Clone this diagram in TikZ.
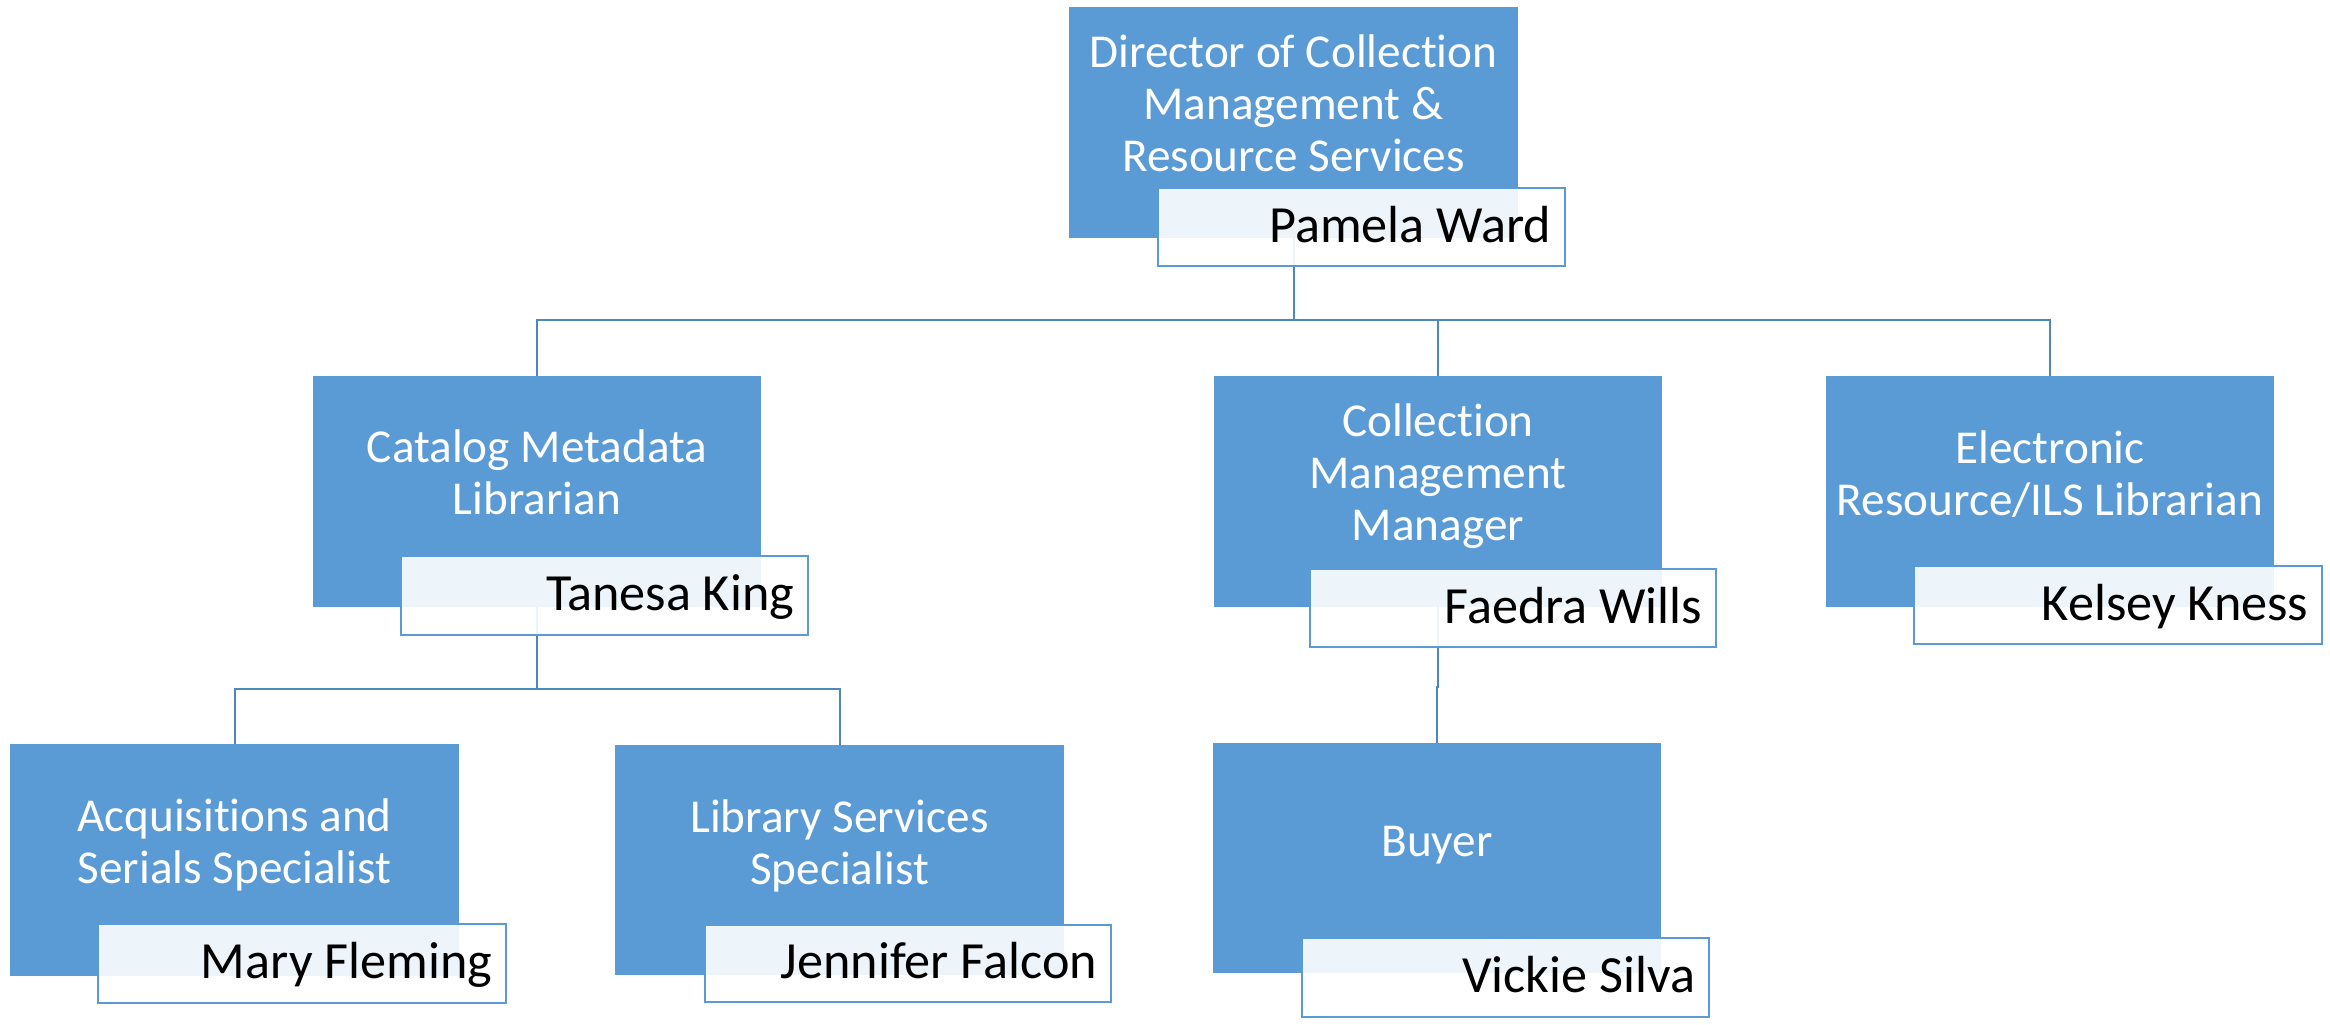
\documentclass[tikz,border=0pt]{standalone}
\usepackage{fontspec}
\setmainfont{Carlito}[Ligatures=NoCommon]
\definecolor{boxblue}{HTML}{5B9BD5}
\definecolor{linkblue}{HTML}{4D87C0}
\tikzset{
  rolebox/.style={rectangle, fill=boxblue, draw=none, inner sep=0pt, outer sep=0pt},
  namebox/.style={rectangle, fill=white, fill opacity=0.9, draw=boxblue, line width=1pt, inner sep=0pt, outer sep=0pt},
  roletext/.style={text=white, align=center, inner sep=0pt, font=\fontsize{23.6}{26}\selectfont},
  nametext/.style={text=black, inner sep=0pt, anchor=base east, font=\fontsize{26.1}{30}\selectfont},
  link/.style={draw=linkblue, line width=1pt}
}
\begin{document}
\begin{tikzpicture}[x=0.5pt,y=-0.5pt]
\useasboundingbox (0,0) rectangle (2330,1024);

% role boxes
\node[rolebox, minimum width=224.5pt, minimum height=115.5pt] (dir)  at (1293.5,122.5) {};
\node[rolebox, minimum width=224pt,   minimum height=115.5pt] (cat)  at (537,491.5) {};
\node[rolebox, minimum width=224pt,   minimum height=115.5pt] (cmm)  at (1438,491.5) {};
\node[rolebox, minimum width=224pt,   minimum height=115.5pt] (elec) at (2050,491.5) {};
\node[rolebox, minimum width=224.5pt, minimum height=116pt]   (acq)  at (234.5,860) {};
\node[rolebox, minimum width=224.5pt, minimum height=115pt]   (lib)  at (839.5,860) {};
\node[rolebox, minimum width=224pt,   minimum height=115pt]   (buy)  at (1437,858) {};

% connectors
\coordinate (j1) at (1293.5,320);
\coordinate (j2) at (537,689);
\coordinate (j3) at (1438,687);
\draw[link] (dir.south) -- (j1);
\draw[link] (j1) -| (cat.north);
\draw[link] (j1) -| (cmm.north);
\draw[link] (j1) -| (elec.north);
\draw[link] (cat.south) -- (j2);
\draw[link] (j2) -| (acq.north);
\draw[link] (j2) -| (lib.north);
\draw[link] (cmm.south) -- (j3) -| (buy.north);

% role texts
\node[roletext] (dir-t)  at ([yshift=6.5pt]dir.center)  {\strut Director of Collection\\\strut Management \&\\\strut Resource Services};
\node[roletext] (cat-t)  at ([yshift=6.5pt]cat.center)  {\strut Catalog Metadata\\\strut Librarian};
\node[roletext] (cmm-t)  at ([yshift=6.5pt]cmm.center)  {\strut Collection\\\strut Management\\\strut Manager};
\node[roletext] (elec-t) at ([yshift=6pt]elec.center)   {\strut Electronic\\\strut Resource/ILS Librarian};
\node[roletext] (acq-t)  at ([yshift=6.5pt]acq.center)  {\strut Acquisitions and\\\strut Serials Specialist};
\node[roletext] (lib-t)  at ([yshift=6pt]lib.center)    {\strut Library Services\\\strut Specialist};
\node[roletext] (buy-t)  at ([yshift=6pt]buy.center)    {\strut Buyer};

% name boxes
\node[namebox, minimum width=203.5pt, minimum height=39pt]   (pw) at (1361.5,227) {};
\node[namebox, minimum width=203.5pt, minimum height=39.5pt] (tk) at (604.5,595.5) {};
\node[namebox, minimum width=203pt,   minimum height=39pt]   (fw) at (1513,608) {};
\node[namebox, minimum width=204pt,   minimum height=39pt]   (kk) at (2118,605) {};
\node[namebox, minimum width=204pt,   minimum height=39.5pt] (mf) at (302,963.5) {};
\node[namebox, minimum width=203pt,   minimum height=38.5pt] (jf) at (908,963.5) {};
\node[namebox, minimum width=203.5pt, minimum height=39.5pt] (vs) at (1505.5,977.5) {};

% name texts
\node[nametext] (pw-t) at ([xshift=-6.75pt,yshift=-7.5pt]pw.east) {Pamela Ward};
\node[nametext] (tk-t) at ([xshift=-6.75pt,yshift=-7.5pt]tk.east) {Tanesa King};
\node[nametext] (fw-t) at ([xshift=-6.75pt,yshift=-7.5pt]fw.east) {Faedra Wills};
\node[nametext] (kk-t) at ([xshift=-6.75pt,yshift=-7.5pt]kk.east) {Kelsey Kness};
\node[nametext] (mf-t) at ([xshift=-6.75pt,yshift=-7.5pt]mf.east) {Mary Fleming};
\node[nametext] (jf-t) at ([xshift=-6.75pt,yshift=-7.5pt]jf.east) {Jennifer Falcon};
\node[nametext] (vs-t) at ([xshift=-6.75pt,yshift=-7.5pt]vs.east) {Vickie Silva};
\end{tikzpicture}
\end{document}
